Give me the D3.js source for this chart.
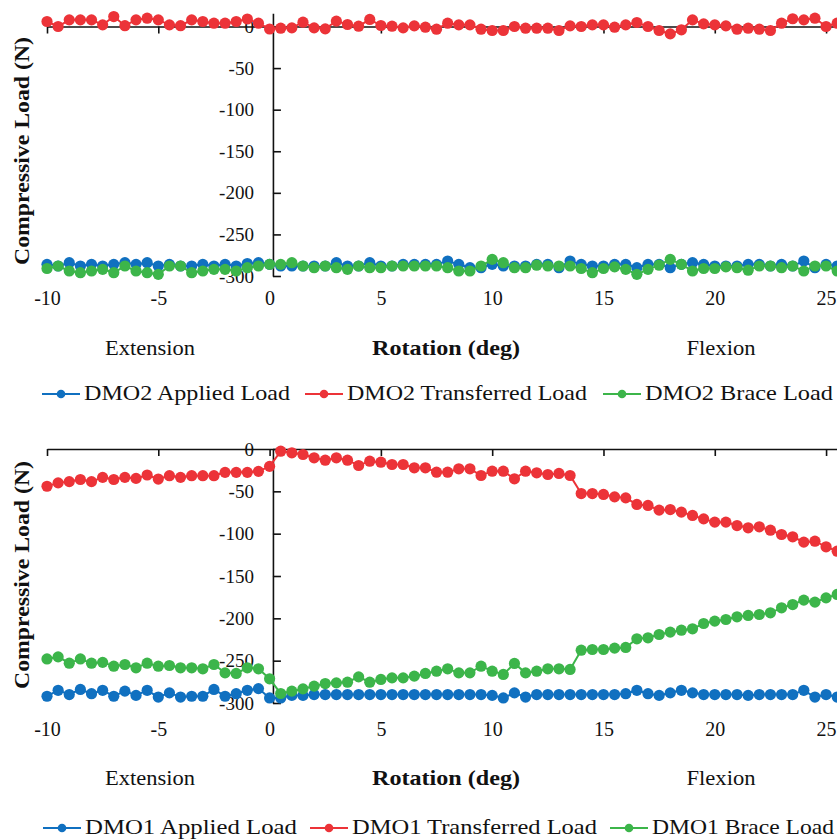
<!DOCTYPE html>
<html>
<head>
<meta charset="utf-8">
<script src="https://cdn.jsdelivr.net/npm/d3@7"></script>
<style>
  html, body { margin: 0; padding: 0; background: #fff; }
  svg { display: block; }
  text { font-family: "Liberation Serif", "Times New Roman", serif; fill: #111; }
</style>
</head>
<body>
<script>
// ---------- DATA ----------
const extensionX = [-10,-9.5,-9,-8.5,-8,-7.5,-7,-6.5,-6,-5.5,-5,-4.5,-4,-3.5,-3,-2.5,-2,-1.5,-1,-0.5,0];
const flexionX = [0.5,1,1.5,2,2.5,3,3.5,4,4.5,5,5.5,6,6.5,7,7.5,8,8.5,9,9.5,10,10.5,11,11.5,12,12.5,13,13.5,14,14.5,15,15.5,16,16.5,17,17.5,18,18.5,19,19.5,20,20.5,21,21.5,22,22.5,23,23.5,24,24.5,25,25.5];
const xTickValues = [-10,-5,0,5,10,15,20,25];
const yTickValues = [-300,-250,-200,-150,-100,-50,0];

// DMO2 (top chart)
const dmo2AppliedExt = [-286,-288,-284,-288,-286,-288,-286,-284,-286,-284,-288,-286,-288,-288,-286,-288,-286,-288,-285,-284,-286];
const dmo2AppliedFlex = [-288,-288,-288,-288,-288,-284,-288,-288,-284,-288,-288,-286,-286,-286,-286,-282,-286,-290,-290,-286,-288,-288,-288,-286,-286,-290,-282,-286,-288,-288,-286,-286,-290,-286,-286,-290,-286,-284,-286,-288,-288,-288,-286,-286,-288,-286,-288,-282,-290,-286,-288];
const dmo2TransferredExt = [6,0,8,8,8,2,12,1,8,10,8,2,1,8,6,4,4,6,9,4,-3];
const dmo2TransferredFlex = [-2,-1.6,5.2,-1.6,-2.8,6.5,2.4,0.4,8.5,1.2,0.4,-1.6,0.8,-0.8,-3.2,4,2,2,-3.2,-4.8,-4.8,0,-2,-2,-2,-4.8,0.8,0,2,2,-0.8,2,4.8,0,-4.8,-8.9,-4,8,3.2,2,0.8,-3.2,-2,-3.2,-4.8,4,9.3,8,10,0,4];
const dmo2BraceExt = [-291,-288,-294,-296,-294,-292,-296,-288,-294,-296,-298,-288,-288,-296,-294,-292,-292,-294,-290,-288,-286];
const dmo2BraceFlex = [-286,-284,-288,-290,-288,-290,-292,-288,-290,-290,-288,-288,-288,-288,-288,-290,-294,-294,-288,-280,-284,-290,-290,-287,-288,-288,-288,-291,-296,-291,-289,-292,-298,-292,-287,-280,-286,-294,-291,-291,-289,-290,-293,-288,-288,-290,-288,-294,-288,-288,-294];

// DMO1 (bottom chart)
const dmo1AppliedExt = [-292,-285,-290,-284,-289,-285,-292,-286,-291,-285,-293,-288,-293,-292,-292,-284,-292,-289,-285,-283,-294];
const dmo1AppliedFlex = [-294,-291,-291,-290,-290,-290,-290,-290,-290,-290,-290,-290,-290,-290,-290,-290,-290,-290,-290,-291,-294,-288,-293,-290,-290,-290,-290,-290,-290,-290,-290,-289,-285,-289,-291,-288,-285,-288,-290,-290,-290,-290,-291,-290,-290,-290,-290,-285,-293,-290,-293];
const dmo1TransferredExt = [-44,-40,-38.5,-36,-38.5,-33.5,-36,-33.5,-34.7,-30.7,-35.5,-31.5,-33.5,-31.5,-31.5,-31.5,-27.6,-27.6,-27.6,-26.4,-20.5];
const dmo1TransferredFlex = [-2.6,-4.5,-6.5,-10.4,-13.2,-10.4,-13.2,-19.5,-14.4,-15.6,-18.3,-18.3,-22.2,-22.2,-27.4,-27.4,-23.4,-23.4,-31.3,-26.2,-26.2,-35.2,-26.2,-28.1,-30.1,-28.9,-31.3,-52.6,-52.6,-53.7,-56.5,-57.7,-65.5,-66.7,-72.2,-71.5,-74.6,-78.5,-82.5,-86.4,-86.4,-90.4,-93.1,-91.9,-95.9,-101,-103.7,-110,-108.9,-115.5,-120.7];
const dmo1BraceExt = [-248,-245.5,-253,-248,-253,-252,-256.5,-254.5,-258.4,-253,-256.5,-255.7,-258.4,-258.4,-259.6,-254.5,-264.4,-265.1,-258.4,-259.6,-271.4];
const dmo1BraceFlex = [-288.8,-286,-283.3,-280.1,-277,-276.2,-275.4,-269.1,-275.4,-272.2,-270.3,-270.3,-268.3,-265.1,-262.4,-259.6,-264.4,-264.4,-256.5,-262.4,-266.3,-253.3,-264.4,-262.4,-259.6,-259.6,-260.4,-237.6,-236.8,-236.8,-235.2,-234.4,-224.2,-223,-219.1,-216.3,-214,-212.4,-206.1,-203.3,-201.4,-198.2,-196.6,-195.5,-193.5,-187.6,-183.7,-178.5,-180.9,-175.8,-171.8];

const seriesNamesTop = ["DMO2 Applied Load", "DMO2 Transferred Load", "DMO2 Brace Load"];
const seriesNamesBottom = ["DMO1 Applied Load", "DMO1 Transferred Load", "DMO1 Brace Load"];
const xTitle = "Rotation (deg)";
const yTitle = "Compressive Load (N)";
const leftNote = "Extension";
const rightNote = "Flexion";

// ---------- STYLE ----------
const colors = ["#1070c0", "#ec3338", "#3cb54a"];
const W = 837, H = 839;
const svg = d3.select("body").append("svg").attr("width", W).attr("height", H);

const x = d3.scaleLinear().domain([-10, 25.5]).range([47, 837.2]);
const yAxisCross = 0.15;
const hyphenFormat = d => String(d); // plain ASCII hyphen like the reference

function buildSeries(ext, flex) {
  return extensionX.map((v, i) => ({x: v, y: ext[i]}))
    .concat(flexionX.map((v, i) => ({x: v, y: flex[i]})));
}

function drawPanel(cfg) {
  const g = svg.append("g");
  const y = d3.scaleLinear().domain(cfg.yDomain).range(cfg.yRange);

  // x axis line at y=0 with ticks downward, no labels
  g.append("g")
    .attr("transform", `translate(0,${y(0)})`)
    .call(d3.axisBottom(x).tickValues(xTickValues).tickSizeInner(7).tickSizeOuter(0).tickFormat(""))
    .call(a => a.select(".domain").attr("stroke", "#111").attr("stroke-width", 1.6))
    .call(a => a.selectAll(".tick line").attr("stroke", "#111").attr("stroke-width", 1.6));

  // x tick labels at the bottom ("low" position)
  g.append("g")
    .attr("transform", `translate(0,${cfg.xLabelY})`)
    .call(d3.axisBottom(x).tickValues(xTickValues).tickSize(0).tickPadding(0).tickFormat(hyphenFormat))
    .call(a => a.select(".domain").remove())
    .call(a => a.selectAll(".tick text")
      .attr("font-size", 20).attr("font-family", "Liberation Serif, serif")
      .attr("fill", "#111").attr("dy", 0).attr("y", 0));

  // y axis
  g.append("g")
    .attr("transform", `translate(${x(yAxisCross)},0)`)
    .call(d3.axisLeft(y).tickValues(yTickValues).tickSizeInner(-8).tickSizeOuter(0).tickPadding(19).tickFormat(hyphenFormat))
    .call(a => a.select(".domain").attr("stroke", "#111").attr("stroke-width", 1.6))
    .call(a => a.selectAll(".tick line").attr("stroke", "#111").attr("stroke-width", 1.6))
    .call(a => a.selectAll(".tick text")
      .attr("font-size", 19).attr("font-family", "Liberation Serif, serif").attr("fill", "#111"));

  // series
  const line = d3.line().x(d => x(d.x)).y(d => y(d.y));
  cfg.series.forEach((s, i) => {
    const sg = g.append("g");
    sg.append("path").datum(s).attr("d", line)
      .attr("fill", "none").attr("stroke", colors[i]).attr("stroke-width", 2);
    sg.selectAll("circle").data(s).join("circle")
      .attr("cx", d => x(d.x)).attr("cy", d => y(d.y)).attr("r", 5.6)
      .attr("fill", colors[i]);
  });

  // y title
  g.append("text")
    .attr("transform", `translate(29,${cfg.yTitleY}) rotate(-90)`)
    .attr("text-anchor", "middle").attr("font-weight", "bold").attr("font-size", 21)
    .attr("textLength", 228).attr("lengthAdjust", "spacingAndGlyphs")
    .text(yTitle);

  // x notes
  g.append("text").attr("x", 150).attr("y", cfg.noteY).attr("text-anchor", "middle")
    .attr("font-size", 21).attr("textLength", 90).attr("lengthAdjust", "spacingAndGlyphs").text(leftNote);
  g.append("text").attr("x", 446).attr("y", cfg.noteY).attr("text-anchor", "middle")
    .attr("font-size", 21).attr("font-weight", "bold")
    .attr("textLength", 148).attr("lengthAdjust", "spacingAndGlyphs").text(xTitle);
  g.append("text").attr("x", 721).attr("y", cfg.noteY).attr("text-anchor", "middle")
    .attr("font-size", 21).attr("textLength", 69).attr("lengthAdjust", "spacingAndGlyphs").text(rightNote);

  // legend
  const lg = g.append("g");
  cfg.legend.forEach((item, i) => {
    const ly = cfg.legendY;
    lg.append("line").attr("x1", item.tx - 42).attr("x2", item.tx - 4)
      .attr("y1", ly - 6).attr("y2", ly - 6)
      .attr("stroke", colors[i]).attr("stroke-width", 2);
    lg.append("circle").attr("cx", item.tx - 23).attr("cy", ly - 6).attr("r", 4.3).attr("fill", colors[i]);
    lg.append("text").attr("x", item.tx).attr("y", ly).attr("font-size", 21)
      .attr("textLength", item.w).attr("lengthAdjust", "spacingAndGlyphs").text(item.name);
  });
}

drawPanel({
  yDomain: [-300, 16], yRange: [276, 13.2],
  xLabelY: 305, noteY: 355, legendY: 400, yTitleY: 151,
  series: [buildSeries(dmo2AppliedExt, dmo2AppliedFlex),
           buildSeries(dmo2TransferredExt, dmo2TransferredFlex),
           buildSeries(dmo2BraceExt, dmo2BraceFlex)],
  legend: [{name: seriesNamesTop[0], tx: 84, w: 206},
           {name: seriesNamesTop[1], tx: 347, w: 240},
           {name: seriesNamesTop[2], tx: 645, w: 188}]
});

drawPanel({
  yDomain: [-300, 0], yRange: [703, 449],
  xLabelY: 736, noteY: 785, legendY: 834, yTitleY: 575,
  series: [buildSeries(dmo1AppliedExt, dmo1AppliedFlex),
           buildSeries(dmo1TransferredExt, dmo1TransferredFlex),
           buildSeries(dmo1BraceExt, dmo1BraceFlex)],
  legend: [{name: seriesNamesBottom[0], tx: 85, w: 212},
           {name: seriesNamesBottom[1], tx: 352, w: 245},
           {name: seriesNamesBottom[2], tx: 652, w: 182}]
});
</script>
</body>
</html>
